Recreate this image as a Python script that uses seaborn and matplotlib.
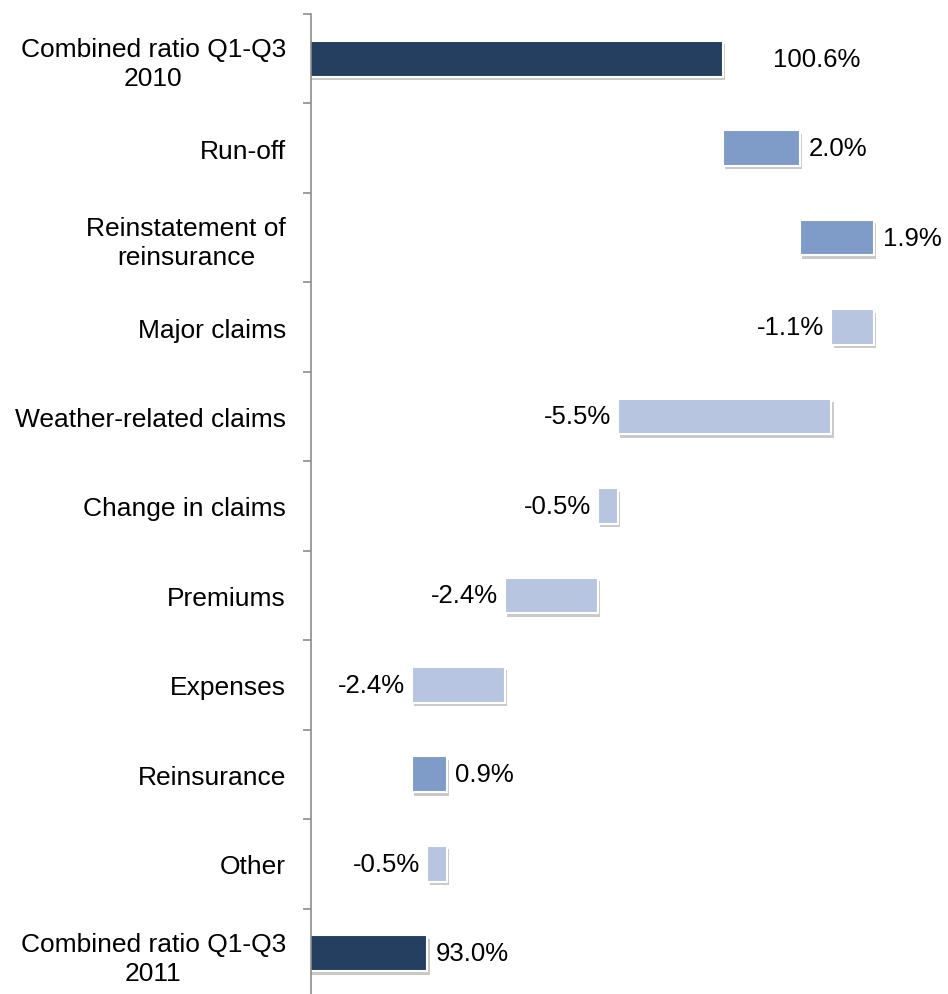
import matplotlib
matplotlib.use("Agg")
import matplotlib.pyplot as plt
import matplotlib.patheffects as pe
import numpy as np
import pandas as pd
import seaborn as sns

# Combined ratio bridge, Q1-Q3 2010 -> Q1-Q3 2011 (percentage points)
categories = [
    "Combined ratio Q1-Q3\n2010",
    "Run-off",
    "Reinstatement of\nreinsurance",
    "Major claims",
    "Weather-related claims",
    "Change in claims",
    "Premiums",
    "Expenses",
    "Reinsurance",
    "Other",
    "Combined ratio Q1-Q3\n2011",
]
values = [100.6, 2.0, 1.9, -1.1, -5.5, -0.5, -2.4, -2.4, 0.9, -0.5, 93.0]
kinds = ["total", "up", "up", "down", "down", "down", "down", "down", "up", "down", "total"]

colors = {"total": "#243F60", "up": "#7F9CC8", "down": "#B7C5E0"}

# Waterfall geometry: totals start at zero, changes start at the running level
starts, widths = [], []
level = 0.0
for v, k in zip(values, kinds):
    if k == "total":
        starts.append(0.0)
        widths.append(v)
        level = v
    else:
        starts.append(min(level, level + v))
        widths.append(abs(v))
        level += v

df = pd.DataFrame({"label": categories, "width": widths, "start": starts,
                   "value": values, "kind": kinds})

sns.set_theme(style="white")
plt.rcParams["font.family"] = ["Liberation Sans", "DejaVu Sans"]

FS = 18.5
TICK_FS = 19

fig = plt.figure(figsize=(9.48, 9.95), dpi=100)
ax = fig.add_axes([0.328, -0.004, 0.672, 0.989])

palette = {lab: colors[k] for lab, k in zip(categories, kinds)}
sns.barplot(data=df, y="label", x="width", hue="label", palette=palette,
            order=categories, hue_order=categories, dodge=False, legend=False,
            width=0.4, edgecolor="white", linewidth=1.5, saturation=1, ax=ax)

shadow = [pe.SimplePatchShadow(offset=(1.5, -2.5), shadow_rgbFace="#7a7a7a", alpha=0.4),
          pe.Normal()]
for p in ax.patches:
    idx = int(round(p.get_y() + p.get_height() / 2))
    p.set_x(df["start"].iloc[idx])
    p.set_path_effects(shadow)

ax.set_xlim(90, 106.4)

# Value labels
for i, row in df.iterrows():
    txt = f"{row['value']:.1f}%"
    if row["kind"] == "total":
        x = row["start"] + row["width"]
        off = 36 if i == 0 else 6
        ax.annotate(txt, (x, i), xytext=(off, 0), textcoords="offset points",
                    ha="left", va="center", fontsize=FS, color="black")
    elif row["kind"] == "up":
        x = row["start"] + row["width"]
        ax.annotate(txt, (x, i), xytext=(6, 0), textcoords="offset points",
                    ha="left", va="center", fontsize=FS, color="black")
    else:
        x = row["start"]
        ax.annotate(txt, (x, i), xytext=(-5, 0), textcoords="offset points",
                    ha="right", va="center", fontsize=FS, color="black")

ax.set_xlabel("")
ax.set_ylabel("")
ax.set_xticks([])
ax.set_ylim(len(categories) - 0.5, -0.5)
ax.set_yticks(np.arange(len(categories) + 1) - 0.5, minor=False)
ax.set_yticklabels([])
ax.set_yticks(np.arange(len(categories)), minor=True)
ax.set_yticklabels(categories, minor=True, fontsize=TICK_FS, ha="right",
                   multialignment="center", color="black", linespacing=1.25)
ax.tick_params(axis="y", which="major", left=True, length=6, width=1.2,
               color="#8c8c8c")
ax.tick_params(axis="y", which="minor", left=False, length=0, pad=18)

for side in ["top", "right", "bottom"]:
    ax.spines[side].set_visible(False)
ax.spines["left"].set_color("#8c8c8c")
ax.spines["left"].set_linewidth(1.2)

fig.savefig("out.png", dpi=100)
